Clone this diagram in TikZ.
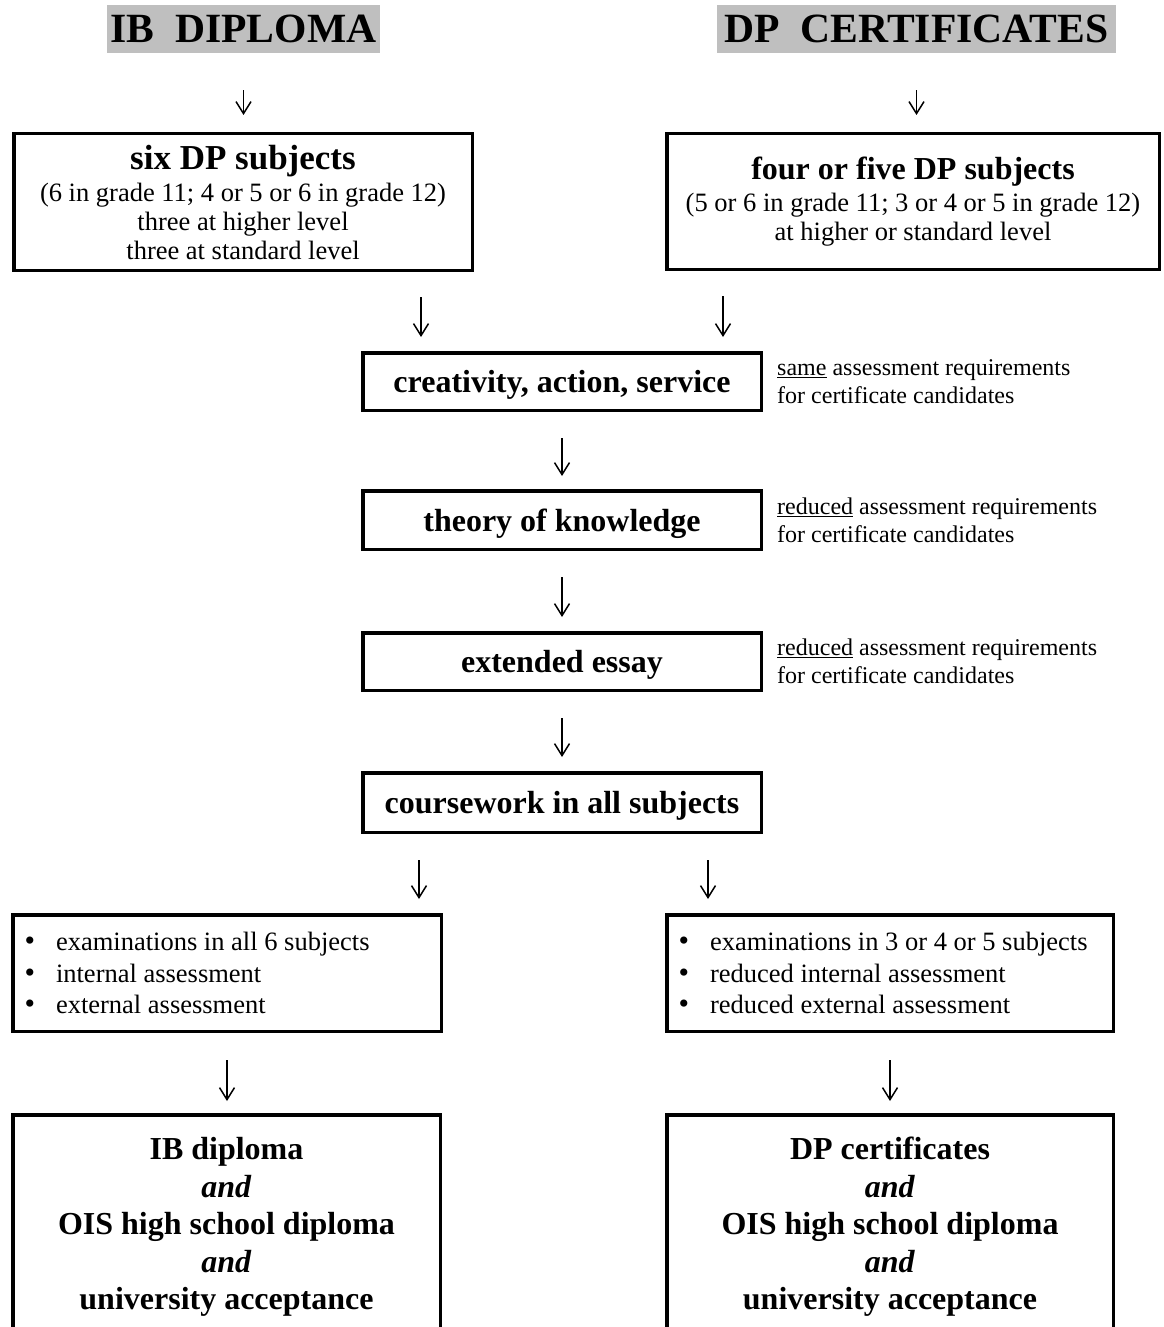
\documentclass[tikz,border=0pt]{standalone}
\usepackage{fontspec}
\setmainfont{Liberation Serif}
\usetikzlibrary{arrows.meta,positioning}

% 列表行
\newcommand{\listline}[2]{\makebox[#1][l]{\makebox[31.5pt][l]{\fontsize{30}{0}\selectfont\textbullet}#2}}

\begin{document}
\begin{tikzpicture}[x=1pt,y=-1pt,
  box/.style={draw, line width=3.5pt, inner sep=0pt, align=center},
  title/.style={fill=gray!50, inner sep=0pt, minimum height=48pt, font=\fontsize{41.6}{48}\selectfont\bfseries},
  down/.style={-{Straight Barb[length=12pt,width=15pt]}, line width=1.5pt},
  note/.style={inner sep=0pt, align=left, font=\fontsize{24}{28}\selectfont},
  big/.style={font=\fontsize{32}{37.5}\selectfont\bfseries},
  one/.style={big, text height=22pt, text depth=0pt},
  small/.style={font=\fontsize{26.5}{29}\selectfont},
  list/.style={box, align=left, inner xsep=11.75pt, font=\fontsize{26.5}{31.5}\selectfont}]

\useasboundingbox (0,0) rectangle (1163,1327);

% 标题
\node[title, minimum width=273pt] (ib) at (243.5,29) {IB\ \ DIPLOMA};
\node[title, minimum width=399pt] (dp) at (916.5,29) {DP\ \ CERTIFICATES};

% 科目
\node[box, small, minimum width=458.5pt, minimum height=136.5pt] (six) at (243,202)
  {{\bfseries\fontsize{35}{32}\selectfont six DP subjects}\\[3pt]
   (6 in grade 11; 4 or 5 or 6 in grade 12)\\
   three at higher level\\
   three at standard level};
\node[box, small, minimum width=492.5pt, minimum height=135.5pt] (four) at (913,201.5)
  {{\bfseries\fontsize{32}{31}\selectfont four or five DP subjects}\\[3pt]
   (5 or 6 in grade 11; 3 or 4 or 5 in grade 12)\\
   at higher or standard level};

% 核心
\node[box, one, minimum width=398.5pt, minimum height=57.5pt] (cas) at (562,381.5) {creativity, action, service};
\node[box, one, minimum width=398.5pt, minimum height=58.5pt] (tok) at (562,520) {theory of knowledge};
\node[box, one, minimum width=398.5pt, minimum height=57.5pt] (ee) at (562,661.5) {extended essay};
\node[box, one, minimum width=398.5pt, minimum height=59.5pt] (cw) at (562,802.5) {coursework in all subjects};

% 备注
\node[note, right=14pt of cas] (casnote) {\underline{same} assessment requirements\\for certificate candidates};
\node[note, right=14pt of tok] (toknote) {\underline{reduced} assessment requirements\\for certificate candidates};
\node[note, right=14pt of ee] (eenote) {\underline{reduced} assessment requirements\\for certificate candidates};

% 考试
\node[list, minimum width=428.5pt, minimum height=116.5pt] (exl) at (227,973)
  {\listline{405pt}{examinations in all 6 subjects}\\
   \listline{405pt}{internal assessment}\\
   \listline{405pt}{external assessment}};
\node[list, minimum width=446.5pt, minimum height=116.5pt] (exr) at (890,973)
  {\listline{423pt}{examinations in 3 or 4 or 5 subjects}\\
   \listline{423pt}{reduced internal assessment}\\
   \listline{423pt}{reduced external assessment}};

% 结果
\node[box, big, minimum width=427.5pt, minimum height=224.5pt] (resl) at (226.5,1227)
  {IB diploma\\\textit{and}\\OIS high school diploma\\\textit{and}\\university acceptance};
\node[box, big, minimum width=446.5pt, minimum height=224.5pt] (resr) at (890,1227)
  {DP certificates\\\textit{and}\\OIS high school diploma\\\textit{and}\\university acceptance};

% 箭头
\draw[down, shorten <=37pt, shorten >=17pt] (ib.south) -- (ib.south |- six.north);
\draw[down, shorten <=37pt, shorten >=17pt] (dp.south) -- (dp.south |- four.north);
\draw[down, shorten <=25pt, shorten >=14pt] ([xshift=178pt]six.south) -- ([xshift=178pt]six.south |- cas.north);
\draw[down, shorten <=25pt, shorten >=14pt] ([xshift=-190pt]four.south) -- ([xshift=-190pt]four.south |- cas.north);
\draw[down, shorten <=26pt, shorten >=13pt] (cas) -- (tok);
\draw[down, shorten <=26pt, shorten >=14pt] (tok) -- (ee);
\draw[down, shorten <=26pt, shorten >=14pt] (ee) -- (cw);
\draw[down, shorten <=26pt, shorten >=14pt] ([xshift=-143pt]cw.south) -- ([xshift=-143pt]cw.south |- exl.north);
\draw[down, shorten <=26pt, shorten >=14pt] ([xshift=146pt]cw.south) -- ([xshift=146pt]cw.south |- exr.north);
\draw[down, shorten <=27pt, shorten >=12pt] (exl) -- (exl |- resl.north);
\draw[down, shorten <=27pt, shorten >=12pt] (exr) -- (exr |- resr.north);

\end{tikzpicture}
\end{document}
